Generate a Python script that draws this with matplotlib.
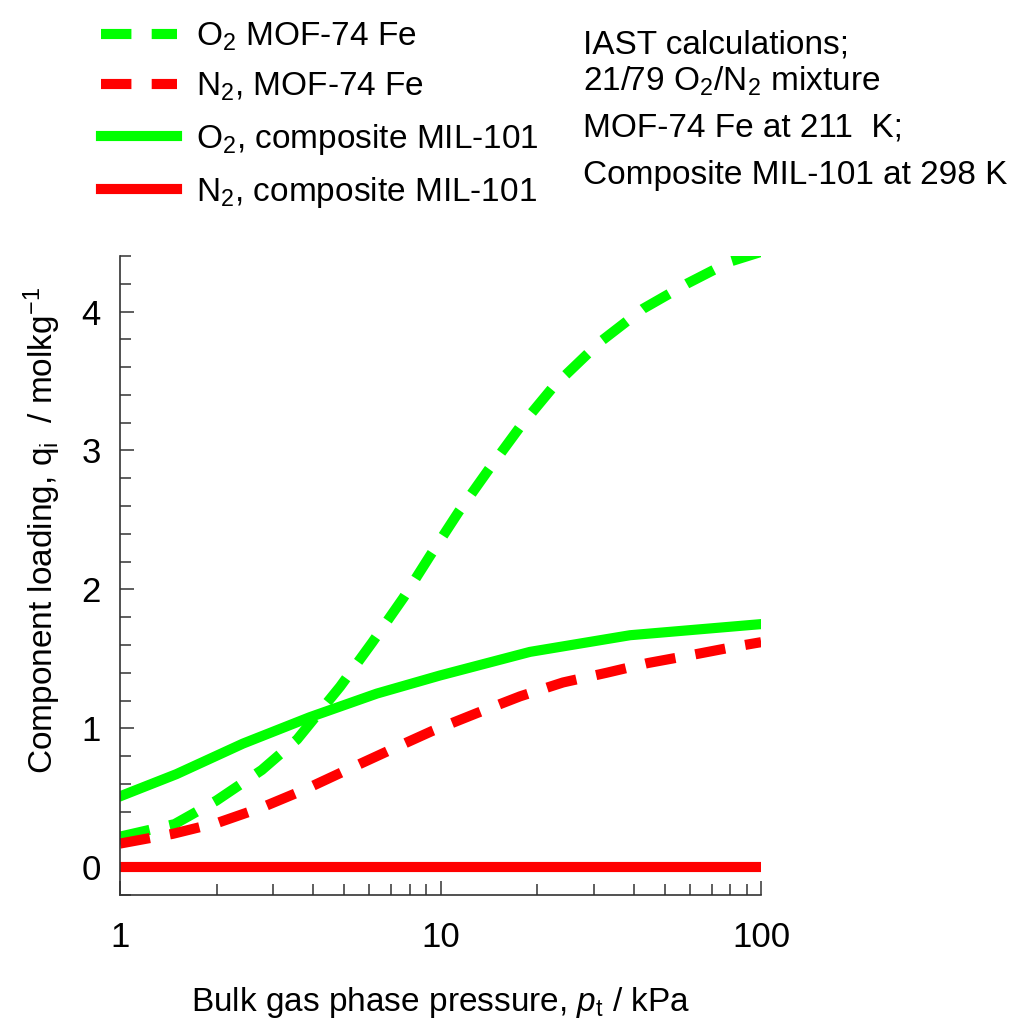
import matplotlib
matplotlib.use('Agg')
import matplotlib.pyplot as plt
from matplotlib.ticker import MultipleLocator, FixedLocator, NullFormatter

plt.rcParams['font.family'] = ['Liberation Sans', 'DejaVu Sans']
plt.rcParams['mathtext.fontset'] = 'custom'
plt.rcParams['mathtext.rm'] = 'Liberation Sans'
plt.rcParams['mathtext.it'] = 'Liberation Sans:italic'
plt.rcParams['mathtext.bf'] = 'Liberation Sans:bold'

# O2, MOF-74 Fe (IAST, 211 K)
p_o2_mof = [1, 1.48, 2.0, 2.77, 3.57, 4.86, 6.13, 7.66, 9.26, 11.4, 14.1, 17.7,
            22.5, 31.4, 42.8, 58.6, 80, 100]
q_o2_mof = [0.22, 0.31, 0.48, 0.70, 0.92, 1.30, 1.62, 1.94, 2.24, 2.56, 2.86,
            3.17, 3.46, 3.78, 4.02, 4.20, 4.36, 4.43]

# N2, MOF-74 Fe
p_n2_mof = [1, 1.46, 2.02, 2.77, 3.78, 5.1, 7.06, 9.4, 13.0, 17.7, 24.1, 33,
            44.4, 61.5, 84, 100]
q_n2_mof = [0.17, 0.24, 0.32, 0.43, 0.56, 0.70, 0.85, 0.98, 1.11, 1.23, 1.33,
            1.40, 1.47, 1.53, 1.59, 1.62]

# O2, composite MIL-101 (298 K)
p_o2_mil = [1, 1.5, 2.42, 3.91, 6.33, 9.95, 19, 39, 100]
q_o2_mil = [0.51, 0.67, 0.89, 1.08, 1.25, 1.38, 1.55, 1.67, 1.75]

# N2, composite MIL-101
p_n2_mil = [1, 100]
q_n2_mil = [0.0, 0.0]

green = '#00ff00'
red = '#ff0000'

fig = plt.figure(figsize=(10.3, 10.24), dpi=100)
ax = fig.add_axes([0.1165, 0.126, 0.6225, 0.624])

lw = 7.3
ax.plot(p_o2_mof, q_o2_mof, color=green, lw=lw, dashes=(3, 2),
        label=r'O$_2$ MOF-74 Fe')
ax.plot(p_n2_mof, q_n2_mof, color=red, lw=lw, dashes=(3, 2),
        label=r'N$_2$, MOF-74 Fe')
ax.plot(p_o2_mil, q_o2_mil, color=green, lw=lw,
        label=r'O$_2$, composite MIL-101')
ax.plot(p_n2_mil, q_n2_mil, color=red, lw=lw,
        label=r'N$_2$, composite MIL-101')

ax.set_xscale('log')
ax.set_xlim(1, 100)
ax.set_ylim(-0.2, 4.4)
ax.set_xticks([1, 10, 100])
ax.set_xticklabels(['1', '10', '100'])
ax.xaxis.set_minor_locator(FixedLocator([k * d for d in (1, 10) for k in range(2, 10)]))
ax.xaxis.set_minor_formatter(NullFormatter())
ax.yaxis.set_major_locator(MultipleLocator(1))
ax.yaxis.set_minor_locator(MultipleLocator(0.2))

for s in ('top', 'right'):
    ax.spines[s].set_visible(False)
for s in ('left', 'bottom'):
    ax.spines[s].set_linewidth(1.2)
    ax.spines[s].set_color('#333333')

ax.tick_params(which='both', direction='in', width=1.1, color='#333333')
ax.tick_params(which='major', length=10, labelsize=25)
ax.tick_params(which='minor', length=8)
ax.tick_params(axis='x', which='major', pad=19)
ax.tick_params(axis='y', which='major', pad=14)

ax.set_xlabel(r'Bulk gas phase pressure, $p_\mathrm{t}$ / kPa', fontsize=24, labelpad=22)
ax.set_ylabel(r'Component loading, q$_\mathrm{i}$  / molkg$^{-1}$', fontsize=24, labelpad=13)
ax.yaxis.label.set_y(0.571)

ax.legend(loc='upper left', bbox_to_anchor=(0.075, 1.003), bbox_transform=fig.transFigure,
          frameon=False, fontsize=24, handlelength=2.3, handletextpad=0.55,
          labelspacing=0.55, borderaxespad=0.3)

fig.text(0.566, 0.956, 'IAST calculations;', fontsize=24, va='center')
fig.text(0.566, 0.921, r'21/79 O$_2$/N$_2$ mixture', fontsize=24, va='center')
fig.text(0.566, 0.875, 'MOF-74 Fe at 211  K;', fontsize=24, va='center')
fig.text(0.566, 0.829, 'Composite MIL-101 at 298 K', fontsize=24, va='center')

fig.savefig('out.png', dpi=100, facecolor='white')
